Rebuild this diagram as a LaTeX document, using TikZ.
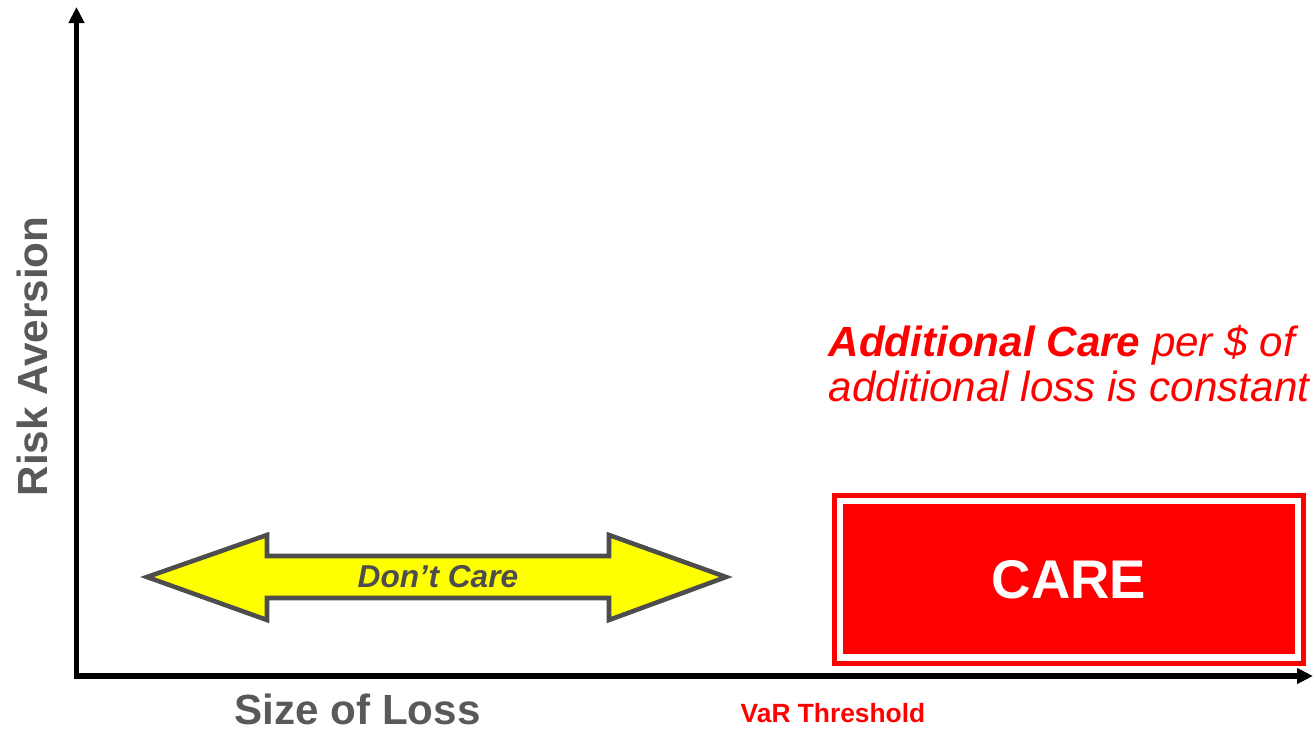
\documentclass[tikz,border=0pt]{standalone}
\usepackage{fontspec}
\setmainfont{Liberation Sans}
\usepackage{tikz}
\usetikzlibrary{arrows.meta, positioning, calc}
\definecolor{lossred}{HTML}{FF0000}
\definecolor{labelgray}{HTML}{595959}
\definecolor{edgegray}{HTML}{4D4D4D}
\definecolor{zoneyellow}{HTML}{FFFF00}

\begin{document}
\begin{tikzpicture}[
    axis/.style={line width=1.5pt, {Triangle[length=0.16cm,width=0.15cm]}-{Triangle[length=0.16cm,width=0.15cm]}},
    axislabel/.style={text=labelgray, font=\fontsize{12}{14}\selectfont\bfseries, inner sep=0pt},
    zonearrow/.style={fill=zoneyellow, draw=edgegray, line width=1.3pt, line join=miter},
    carebox/.style={fill=lossred, draw=lossred, line width=1.4pt, double=white, double distance=1.8pt,
      minimum width=4.585cm, minimum height=1.565cm, inner sep=0pt, text=white,
      font=\fontsize{15.5}{18}\selectfont\bfseries}
  ]
    \useasboundingbox (0,0) rectangle (13.15,7.35);
    % Axes
    \coordinate (origin) at (0.765,0.59);
    \coordinate (ytop) at (0.765,7.28);
    \coordinate (xend) at (13.13,0.59);
    \draw[axis] (ytop) -- (origin) -- (xend);
    \node[axislabel, rotate=90] (ylabel) at (0.32,3.785) {Risk Aversion};
    \node[axislabel, anchor=base] (xlabel) at (3.575,0.11) {Size of Loss};
    \node[text=lossred, font=\fontsize{7.5}{9}\selectfont\bfseries, inner sep=0pt, anchor=base] (var) at (8.33,0.13) {VaR Threshold};
    % Don't care zone
    \draw[zonearrow] (1.47,1.58) -- (2.67,2.00) -- (2.67,1.79) -- (6.09,1.79) -- (6.09,2.00)
      -- (7.26,1.58) -- (6.09,1.15) -- (6.09,1.37) -- (2.67,1.37) -- (2.67,1.15) -- cycle;
    \node[text=edgegray, font=\fontsize{9}{11}\selectfont\bfseries\itshape, inner sep=0pt] (dontcare) at (4.38,1.58) {Don’t Care};
    % Care zone
    \node[carebox] (care) at (10.69,1.5575) {CARE};
    \node[text=lossred, font=\fontsize{12}{12.8}\selectfont\itshape, align=left, inner sep=0pt, anchor=north west] (note) at (8.28,4.10)
      {\textbf{Additional Care} per \$ of\\additional loss is constant};
  \end{tikzpicture}
\end{document}
